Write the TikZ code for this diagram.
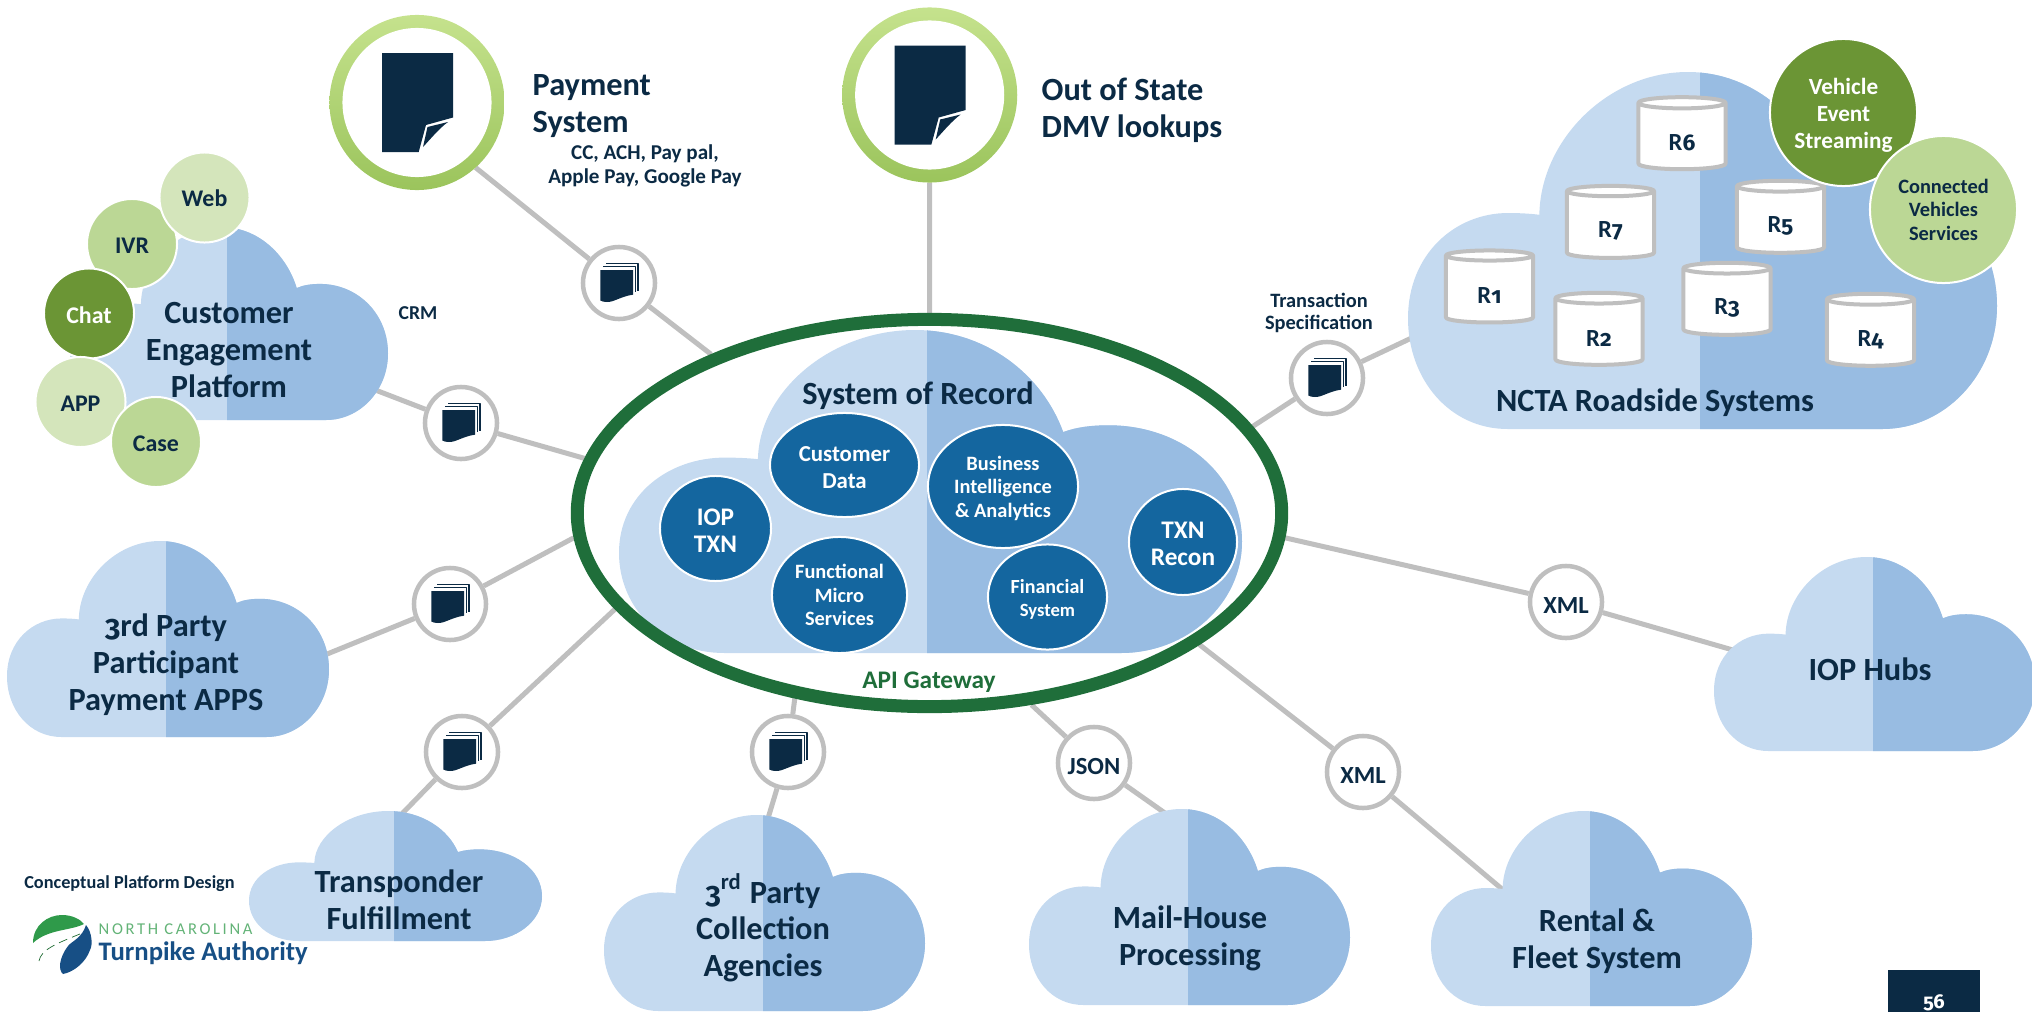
\documentclass[tikz,border=0pt]{standalone}
\usepackage{fontspec}
\setmainfont{Carlito}
\newfontfamily\oldnum[Numbers=OldStyle,Scale=.92]{Fira Sans}
\newcommand{\od}[1]{{\oldnum #1}}
\newcommand{\pd}[1]{\rule{0pt}{#1pt}}
\usetikzlibrary{shapes.geometric}
\usetikzlibrary{backgrounds}
\definecolor{navyink}{HTML}{0B2A44}
\definecolor{cloudlt}{HTML}{C5DAF0}
\definecolor{clouddk}{HTML}{98BCE2}
\definecolor{linkgrey}{HTML}{BFBFBF}
\definecolor{apigreen}{HTML}{1F6E3A}
\definecolor{coreblue}{HTML}{14669F}
\definecolor{leafpale}{HTML}{D4E5BB}
\definecolor{leafmid}{HTML}{BBD795}
\definecolor{leafdark}{HTML}{6B9535}
\definecolor{ringtop}{HTML}{C5E28D}
\definecolor{ringbot}{HTML}{9BC45C}
\definecolor{logogreen}{HTML}{2F9A4A}
\definecolor{logoblue}{HTML}{174F85}
\newcommand{\fs}[2]{\fontsize{#1pt}{#2pt}\selectfont\bfseries}
\newcommand{\cloudshape}{(.169,1) .. controls (.07,1) and (0,.86) .. (0,.69) .. controls (0,.51) and (.08,.395) .. (.17,.395) .. controls (.19,.395) and (.21,.397) .. (.223,.40) .. controls (.225,.19) and (.34,0) .. (.475,0) .. controls (.59,0) and (.68,.14) .. (.713,.316) .. controls (.735,.30) and (.76,.295) .. (.786,.295) .. controls (.905,.295) and (1,.45) .. (1,.655) .. controls (1,.85) and (.91,1) .. (.806,1) -- cycle}
\newcommand{\cloudpic}[4]{\begin{scope}[shift={(#1,#2)},x=#3*.01cm,y=-#4*.01cm]
\fill[cloudlt] \cloudshape;
\clip \cloudshape;
\fill[clouddk] (.495,0) rectangle (1.01,1.01);
\end{scope}}
\newcommand{\bigdoc}[2]{\begin{scope}[shift={(#1,#2)}]
\fill[navyink] (-35,-49.5) -- (36,-49.5) -- (36,15) -- (9,22.5) -- (1.7,49.5) -- (-35,49.5) -- cycle;
\fill[navyink] (31,19.5) -- (10.5,24.5) -- (6,44.5) .. controls (14,36) and (22,26) .. (31,19.5) -- cycle;
\end{scope}}
\newcommand{\stackdoc}[2]{\begin{scope}[shift={(#1,#2)}]
\fill[navyink] (-18.7,-13) -- (14,-13) -- (14,11.7) .. controls (3,13) and (-6,19.5) .. (-12,19) .. controls (-15,19) and (-17,18.5) .. (-18.7,17.5) -- cycle;
\draw[navyink,line width=.015cm] (-16,-16.5) -- (16.5,-16.5) -- (16.5,9);
\draw[navyink,line width=.015cm] (-13,-19.3) -- (19,-19.3) -- (19,8);
\end{scope}}
\begin{document}
\begin{tikzpicture}[line join=round,x=.01cm,y=-.01cm,
big/.style={font=\fs{9.2}{10.5},align=center,text=navyink,inner sep=0pt},
small/.style 2 args={font=\fs{#1}{#2},align=center,text=navyink,inner sep=0pt},
hub/.style={circle,draw=linkgrey,fill=white,line width=.045cm,minimum size=.72cm,inner sep=0pt},
bubble/.style={circle,draw=white,line width=.02cm,fill=#1,minimum width=.88cm,minimum height=.9cm,inner sep=0pt},
core/.style={ellipse,draw=white,line width=.02cm,fill=coreblue,inner sep=0pt,align=center,text=white},
disk/.style={cylinder,shape border rotate=90,aspect=.42,draw=linkgrey,fill=white,line width=.04cm,minimum width=.87cm,minimum height=.72cm,inner sep=0pt,font=\fs{7}{8},text=navyink},
link/.style={draw=linkgrey,line width=.05cm},
bigring/.style={circle,minimum size=1.75cm,inner sep=0pt,outer sep=0pt,top color=ringtop,bottom color=ringbot},
bighole/.style={circle,minimum size=1.49cm,inner sep=0pt,fill=white}]
\useasboundingbox (0,0) rectangle (2032,1012);
% The clouds
\cloudpic{70}{227}{318}{193}
\cloudpic{7}{541}{322}{196}
\cloudpic{249}{811}{293}{130}
\cloudpic{604}{815}{321}{196}
\cloudpic{1029}{809}{321}{196}
\cloudpic{1431}{811}{321}{195}
\cloudpic{1714}{557}{321}{194}
\cloudpic{1408}{72}{589}{357}
\cloudpic{619}{330}{623}{323}
% Free ends of the connectors, under the clouds
\coordinate (crmend) at (365,386);
\coordinate (thirdend) at (310,661);
\coordinate (tfend) at (395,821);
\coordinate (collend) at (766,825);
\coordinate (mailend) at (1172,818);
\coordinate (rentend) at (1515,900);
\coordinate (iopend) at (1745,653.5);
\coordinate (ncend) at (1420,334);
% The gateway ring
\node[ellipse,draw=apigreen,line width=.13cm,minimum width=7.04cm,minimum height=3.87cm,inner sep=0pt] (gateway) at (929.5,513) {};
\node[font=\fs{7.2}{8},text=apigreen,inner sep=0pt] (apilabel) at (929,682) {API Gateway};
% System of record
\node[big] (sorlabel) at (918,396) {System of Record};
\node[core,minimum width=1.49cm,minimum height=1.04cm,font=\fs{6.5}{7.6}] (cdata) at (844.5,465) {\pd{5.8}Customer\\Data};
\node[core,minimum width=1.11cm,minimum height=1.05cm,font=\fs{7.2}{7.7}] (ioptxn) at (715.5,528.5) {\pd{6.1}IOP\\TXN};
\node[core,minimum width=1.35cm,minimum height=1.16cm,font=\fs{5.8}{6.7}] (fmicro) at (839.5,595) {Functional\\Micro\\Services};
\node[core,minimum width=1.5cm,minimum height=1.23cm,font=\fs{5.8}{6.7}] (bintel) at (1003,486.5) {\pd{5.1}Business\\Intelligence\\\& Analytics};
\node[core,minimum width=1.19cm,minimum height=1.05cm,font=\fs{5.7}{6.6}] (finsys) at (1047.5,597) {\pd{5.5}Financial\\{\fontsize{5.3pt}{6.6pt}\selectfont System}};
\node[core,minimum width=1.08cm,minimum height=1.06cm,font=\fs{7.2}{7.7}] (txnrec) at (1183,542) {\pd{5.7}TXN\\Recon};
% Customer engagement platform
\node[bubble=leafmid,text=navyink,font=\fs{6.8}{8}] (ivr) at (132,244) {\pd{5.4}IVR};
\node[bubble=leafpale,text=navyink,font=\fs{6.8}{8}] (web) at (204.5,197.5) {\pd{5.4}Web};
\node[bubble=leafdark,text=white,font=\fs{6.8}{8}] (chat) at (89,313.5) {\pd{6}Chat};
\node[bubble=leafpale,text=navyink,font=\fs{6.8}{8}] (app) at (80.5,402) {\pd{5.4}APP};
\node[bubble=leafmid,text=navyink,font=\fs{6.8}{8}] (case) at (156,442) {\pd{5.4}Case};
\node[big] (ceplabel) at (229,350) {Customer\\Engagement\\Platform};
\node[small={5.6}{7}] (crmlabel) at (418,313) {CRM};
% The two top systems
\node[bigring] (payring) at (417,102.5) {};
\node[bighole] (payhole) at (payring) {};
\bigdoc{417}{102.5}
\node[bigring] (dmvring) at (929.7,95) {};
\node[bighole] (dmvhole) at (dmvring) {};
\bigdoc{929.7}{95}
\node[big,anchor=west,align=left] (paylabel) at (532,106) {Payment\\System};
\node[small={6}{6.9}] (paynote) at (645,166) {CC, ACH, Pay pal,\\Apple Pay, Google Pay};
\node[big,anchor=west,align=left] (dmvlabel) at (1041,110.5) {Out of State\\DMV lookups};
% Small circles on the connectors
\foreach \nm/\x/\y in {spay/619/283,scrm/461/423,sthird/450/604,stf/462/752,scoll/788/752,strans/1327/378}
{\node[hub] (\nm) at (\x,\y) {};
\stackdoc{\x}{\y}}
\node[hub,font=\fs{7}{8},text=navyink] (sjson) at (1094,763) {\pd{6.7}JSON};
\node[hub,font=\fs{7}{8},text=navyink] (sxmlr) at (1363,772) {\pd{6.7}XML};
\node[hub,font=\fs{7}{8},text=navyink] (sxmli) at (1566,602) {\pd{6.7}XML};
\node[small={5.8}{6.5}] (translabel) at (1319,313) {Transaction\\Specification};
% Cloud labels
\node[big] (thirdlabel) at (166,665) {\od{3}rd Party\\Participant\\Payment APPS};
\node[big] (tflabel) at (399,900) {Transponder\\Fulfillment};
\node[big] (colllabel) at (763,928) {\od{3}\textsuperscript{rd} Party\\Collection\\Agencies};
\node[big] (maillabel) at (1190,938) {Mail-House\\Processing};
\node[big] (rentlabel) at (1597,941) {Rental \&\\Fleet System};
\node[big] (ioplabel) at (1870,669) {IOP Hubs};
\node[big] (nclabel) at (1655,403) {NCTA Roadside Systems};
% Roadside disks
\foreach \x/\y/\t in {1682/137/6,1610.5/225.5/7,1780.5/220.5/5,1727/302.5/3,1599/332.5/2,1870.5/333.5/4,1489.5/290/1}
\node[disk] (road\t) at (\x,\y) {\pd{7.9}R\od{\t}};
\node[circle,draw=white,line width=.02cm,fill=leafdark,minimum size=1.47cm,inner sep=0pt,align=center,text=white,font=\fs{6.6}{7.6}] (vehev) at (1843.5,112.5) {\pd{6.3}Vehicle\\Event\\Streaming};
\node[circle,draw=white,line width=.02cm,fill=leafmid,minimum size=1.47cm,inner sep=0pt,align=center,text=navyink,font=\fs{5.8}{6.7}] (connv) at (1943.5,209.5) {Connected\\Vehicles\\Services};
% Footer
\node[small={5.2}{6}] (footnote) at (129.5,884) {Conceptual Platform Design};
\fill[logogreen] (33,943) .. controls (33,925) and (48,915) .. (62,915) .. controls (72,915) and (80,919) .. (84,924) .. controls (70,931) and (48,929) .. (33,943) -- cycle;
\fill[logoblue] (86,925) .. controls (92,932) and (93,945) .. (90,950) .. controls (86,962) and (74,972) .. (63,974) .. controls (58,970) and (59,958) .. (68,946) .. controls (72,941) and (82,938) .. (86,925) -- cycle;
\draw[logogreen!70!black,line width=.007cm,dash pattern=on 2.5pt off 1.5pt] (39,961) .. controls (41,950) and (55,944) .. (80,934);
\node[anchor=west,font=\fontsize{4.7pt}{5pt}\selectfont\addfontfeature{LetterSpace=16},text=logogreen!75,inner sep=0pt] (nclogo) at (98,929) {NORTH CAROLINA};
\node[anchor=west,font=\fs{7.6}{8},text=logoblue,inner sep=0pt] (talogo) at (98,953) {Turnpike Authority};
\fill[navyink] (1888,970) rectangle (1980,1012);
\node[font=\fs{6.2}{7}\oldnum,text=white,inner sep=0pt] (pageno) at (1934,1003) {56};
% The connectors, behind everything
\begin{scope}[on background layer]
\draw[link] (payring.-48.5) -- (spay);
\draw[link] (spay) -- (gateway.144.7);
\draw[link] (dmvring) -- (gateway);
\draw[link] (crmend) -- (scrm);
\draw[link] (scrm) -- (gateway.171);
\draw[link] (thirdend) -- (sthird);
\draw[link] (sthird) -- (gateway.184.9);
\draw[link] (tfend) -- (stf);
\draw[link] (stf) -- (gateway.197.5);
\draw[link] (collend) -- (scoll);
\draw[link] (scoll) -- (gateway.234.6);
\draw[link] (mailend) -- (sjson);
\draw[link] (sjson) -- (gateway.298.9);
\draw[link] (rentend) -- (sxmlr);
\draw[link] (sxmlr) -- (gateway.334.4);
\draw[link] (iopend) -- (sxmli);
\draw[link] (sxmli) -- (gateway.356.2);
\draw[link] (ncend) -- (strans);
\draw[link] (strans) -- (gateway.15.8);
\end{scope}
\end{tikzpicture}
\end{document}
